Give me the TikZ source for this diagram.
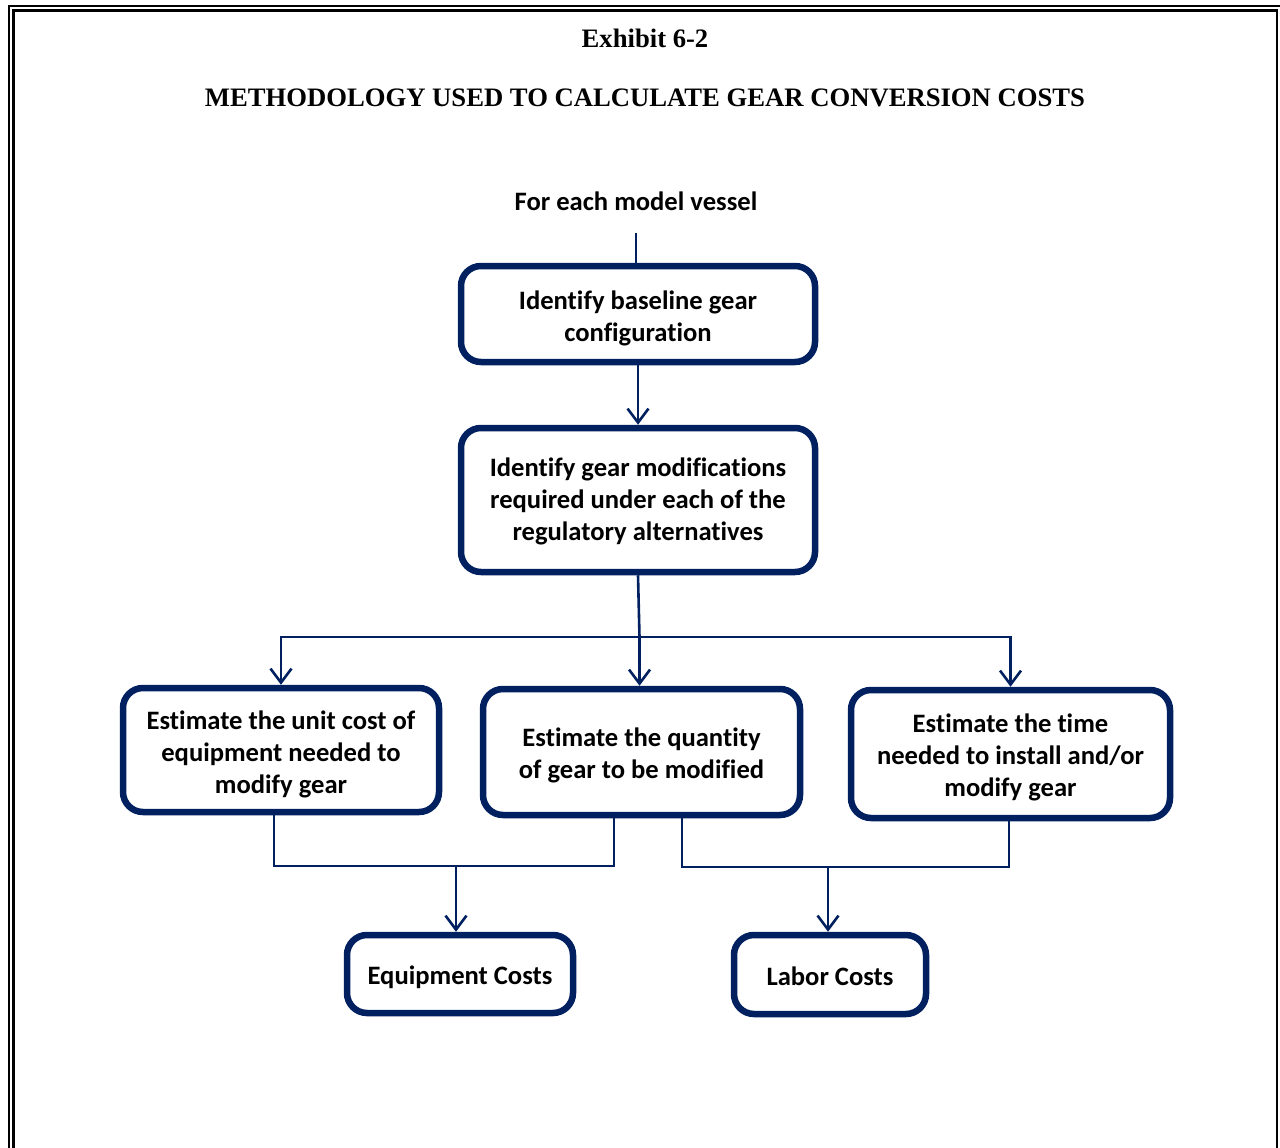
\documentclass[tikz,border=0pt]{standalone}
\usepackage{fontspec}
\setmainfont{Liberation Serif}
\newfontfamily\calfont[Ligatures=NoCommon]{Carlito}
\usetikzlibrary{arrows.meta}
\definecolor{navy}{HTML}{002060}
\newcommand\tp[1]{\rule{0pt}{#1pt}}
\newcommand\bt[1]{\rule[-#1pt]{0pt}{#1pt}}
\tikzset{
  box/.style={draw=navy, line width=6.5pt, rounded corners=20pt, fill=white,
    align=center, inner sep=0pt, font=\calfont\bfseries\fontsize{26.6}{32}\selectfont},
  conn/.style={draw=navy, line width=2.6pt},
  arr/.style={conn, -{Straight Barb[length=14pt,width=21pt]}},
  ttl/.style={font=\bfseries\fontsize{26.65}{32}\selectfont, inner sep=0pt},
  lbl/.style={font=\calfont\bfseries\fontsize{26.6}{32}\selectfont, inner sep=0pt}
}
\begin{document}
\begin{tikzpicture}[x=1pt,y=-1pt]
\useasboundingbox (0,0) rectangle (1280,1148);
\clip (0,0) rectangle (1280,1148);
% page border (double line)
\draw[line width=2.6pt] (9,6) rectangle (1300,1170);
\draw[line width=2.2pt] (13.5,10.5) rectangle (1277.3,1170);
% titles
\node[ttl] (t1) at (645,38) {Exhibit 6-2};
\node[ttl] (t2) at (645,98) {METHODOLOGY USED TO CALCULATE GEAR CONVERSION COSTS};
\node[lbl] (start) at (636,201) {For each model vessel};
\coordinate (s0) at (636,233);
% boxes
\node[box, minimum width=354pt, minimum height=96pt] (b1) at (638,314)
  {\tp{27}Identify baseline gear\\configuration\bt{4}};
\node[box, minimum width=354pt, minimum height=144pt] (b2) at (638,500)
  {\tp{24}Identify gear modifications\\required under each of the\\regulatory alternatives\bt{7}};
\node[box, minimum width=316pt, minimum height=124pt] (b3) at (281,750)
  {\tp{28}Estimate the unit cost of\\equipment needed to\\modify gear\bt{3}};
\node[box, minimum width=317pt, minimum height=126pt] (b4) at (641.5,752)
  {\tp{26}Estimate the quantity\\of gear to be modified\bt{5}};
\node[box, minimum width=319pt, minimum height=128pt] (b5) at (1010.5,754)
  {\tp{26}Estimate the time\\needed to install and/or\\modify gear\bt{5}};
\node[box, minimum width=226pt, minimum height=78pt] (eq) at (460,974)
  {\tp{26}Equipment Costs\bt{5}};
\node[box, minimum width=192pt, minimum height=79pt] (lab) at (830,974.5)
  {\tp{26}Labor Costs\bt{5}};
% connectors
\coordinate (hub) at (639.5,637);
\coordinate (mL) at (456,866);
\coordinate (mR) at (828,867);
\draw[conn] (s0) -- (s0 |- b1.north);
\draw[arr] (b1.south) -- (b2.north);
\draw[conn] (b2.south) -- (hub);
\draw[arr] (hub) -| (b3.north);
\draw[arr] (hub) -| (b5.north);
\draw[arr] (hub) -- (hub |- b4.north);
\draw[conn] ([xshift=-7pt]b3.south) |- (mL) -| ([xshift=-27.5pt]b4.south);
\draw[arr] (mL) -- (mL |- eq.north);
\draw[conn] ([xshift=40.5pt]b4.south) |- (mR) -| ([xshift=-1.5pt]b5.south);
\draw[arr] (mR) -- (mR |- lab.north);
\end{tikzpicture}
\end{document}
